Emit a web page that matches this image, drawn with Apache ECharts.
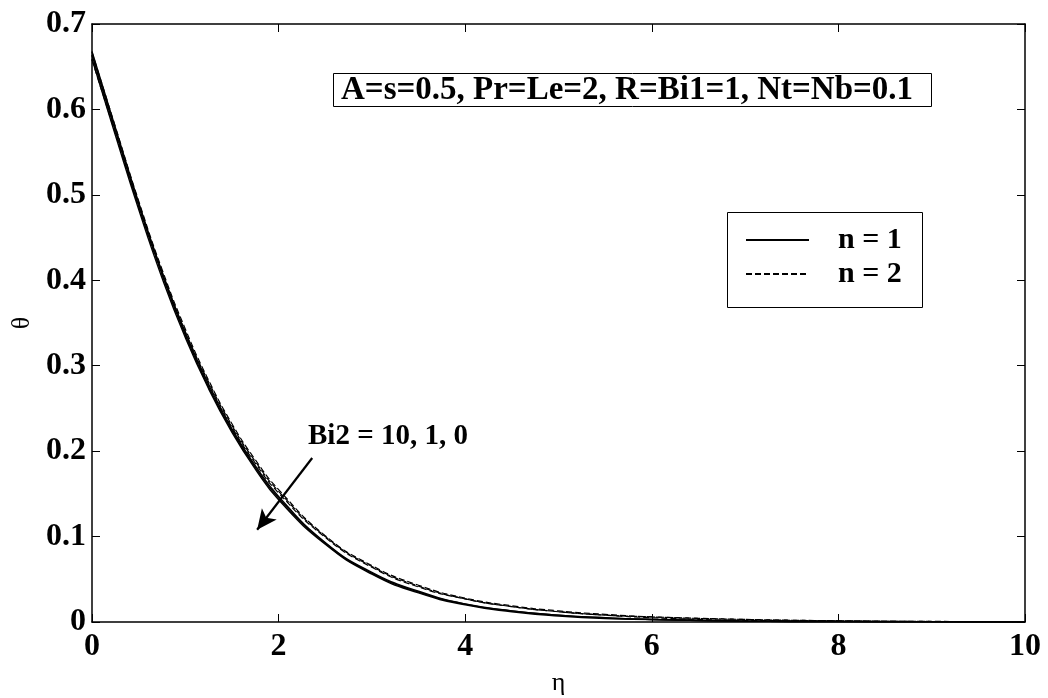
<!DOCTYPE html>
<html><head><meta charset="utf-8">
<script src="https://cdn.jsdelivr.net/npm/echarts@6/dist/echarts.min.js"></script>
<style>html,body{margin:0;padding:0;background:#fff}#c{width:1048px;height:698px}</style>
</head><body><div id="c"></div>
<script>
const eta = [0,0.25,0.5,0.75,1,1.25,1.5,1.75,2,2.5,3,3.5,4,4.5,5,5.5,6,7,8,9,10];
// n = 1 (solid)
const n1_Bi10 = [0.668,0.579,0.491,0.410,0.339,0.278,0.226,0.183,0.147,0.093,0.058,0.036,0.021,0.013,0.008,0.005,0.003,0.001,0.0004,0.0001,0];
const n1_Bi1  = [0.664,0.575,0.487,0.407,0.336,0.275,0.224,0.181,0.145,0.092,0.057,0.035,0.021,0.013,0.008,0.005,0.003,0.001,0.0004,0.0001,0];
const n1_Bi0  = [0.659,0.570,0.483,0.403,0.333,0.273,0.222,0.179,0.143,0.091,0.056,0.034,0.020,0.012,0.007,0.004,0.003,0.001,0.0004,0.0001,0];
// n = 2 (dashed)
const n2_Bi10 = [0.667,0.580,0.493,0.413,0.343,0.283,0.232,0.190,0.155,0.101,0.066,0.043,0.028,0.019,0.013,0.009,0.006,0.003,0.0015,0.0007,0.0003];
const n2_Bi1  = [0.663,0.576,0.490,0.410,0.340,0.281,0.230,0.188,0.153,0.100,0.065,0.042,0.027,0.018,0.012,0.008,0.006,0.003,0.0014,0.0006,0.0003];
const n2_Bi0  = [0.658,0.572,0.486,0.407,0.337,0.278,0.228,0.186,0.151,0.099,0.064,0.041,0.027,0.018,0.012,0.008,0.005,0.002,0.0012,0.0005,0.0002];
const xTicks = [0,2,4,6,8,10];
const yTicks = [0,0.1,0.2,0.3,0.4,0.5,0.6,0.7];
const paramText = 'A=s=0.5, Pr=Le=2, R=Bi1=1, Nt=Nb=0.1';
const bi2Text = 'Bi2 = 10, 1, 0';

const FONT = '"Liberation Serif","Times New Roman",serif';
const pairs = a => eta.map((x,i)=>[x,a[i]]);
function ser(name, arr, dashed){
  return {
    name, type:'line', data:pairs(arr), smooth:true, symbol:'none',
    lineStyle:{color:'#000', width: dashed?1.2:1.4, type: dashed?[6,3]:'solid'},
    itemStyle:{color:'#000'}, z:3
  };
}
const series = [
  ser('n = 1', n1_Bi10, false), ser('n = 1', n1_Bi1, false), ser('n = 1', n1_Bi0, false),
  ser('n = 2', n2_Bi10, true), ser('n = 2', n2_Bi1, true), ser('n = 2', n2_Bi0, true)
];
series[0].markLine = {
  silent:true, animation:false,
  lineStyle:{color:'#000', width:2.2, type:'solid'},
  symbolSize:[14,20],
  label:{show:false},
  data:[[{coord:[2.36,0.192], symbol:'none'},{coord:[1.77,0.108], symbol:'arrow'}]]
};

const chart = echarts.init(document.getElementById('c'));
const axisCommon = {
  axisLine:{show:true,onZero:false,lineStyle:{color:'#000',width:1.5}},
  axisTick:{show:true,inside:true,length:8,lineStyle:{color:'#000',width:1}},
  splitLine:{show:false}
};
chart.setOption({
  animation:false,
  backgroundColor:'#fff',
  grid:{left:92,right:23,top:24,bottom:76,containLabel:false,outerBoundsMode:'none'},
  xAxis:[
    Object.assign({type:'value',min:0,max:10,interval:2,position:'bottom',
      name:'η',nameLocation:'middle',nameGap:48,
      nameTextStyle:{fontFamily:FONT,fontSize:26,color:'#000'},
      axisLabel:{fontFamily:FONT,fontWeight:'bold',fontSize:32,color:'#000',margin:9,
        formatter:v=>xTicks.includes(v)?String(v):''}}, axisCommon),
    Object.assign({type:'value',min:0,max:10,interval:2,position:'top',axisLabel:{show:false}}, axisCommon)
  ],
  yAxis:[
    Object.assign({type:'value',min:0,max:0.7,interval:0.1,position:'left',
      name:'θ',nameLocation:'middle',nameGap:50,nameRotate:90,
      nameTextStyle:{fontFamily:FONT,fontSize:26,color:'#000'},
      axisLabel:{fontFamily:FONT,fontWeight:'bold',fontSize:32,color:'#000',margin:6,
        formatter:v=>{const t=yTicks.find(k=>Math.abs(k-v)<1e-9);return t===undefined?'':(t===0?'0':t.toFixed(1));}}}, axisCommon),
    Object.assign({type:'value',min:0,max:0.7,interval:0.1,position:'right',axisLabel:{show:false}}, axisCommon)
  ],
  legend:{
    data:['n = 1','n = 2'], orient:'vertical', left:745, top:225,
    itemWidth:63, itemHeight:24, itemGap:4, padding:0,
    itemStyle:{opacity:0},
    textStyle:{fontFamily:FONT,fontWeight:'bold',fontSize:30,lineHeight:24,color:'#000',padding:[0,0,0,24]},
    selectedMode:false
  },
  graphic:[
    {type:'rect',left:727,top:212,shape:{width:195,height:95},
     style:{fill:'rgba(0,0,0,0)',stroke:'#000',lineWidth:1},z:1},
    {type:'rect',left:333,top:73,shape:{width:598,height:33},
     style:{fill:'#fff',stroke:'#000',lineWidth:1},z:1},
    {type:'text',x:341,y:90,z:2,
     style:{text:paramText,font:'bold 33px '+FONT,fill:'#000',verticalAlign:'middle'}},
    {type:'text',x:308,y:437,z:2,
     style:{text:bi2Text,font:'bold 29px '+FONT,fill:'#000',verticalAlign:'middle'}}
  ],
  series
});
</script></body></html>
